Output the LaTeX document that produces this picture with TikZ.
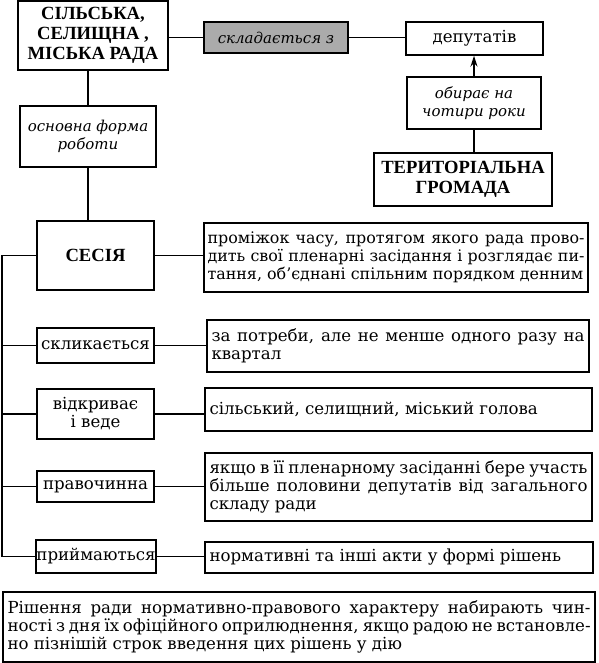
\documentclass[tikz,border=0pt]{standalone}
\usepackage{fontspec}
\setmainfont{DejaVu Serif}
\newfontfamily\headfont{Liberation Serif}
\usetikzlibrary{arrows.meta}
\definecolor{boxgray}{gray}{0.67}

\begin{document}
\begin{tikzpicture}[x=1pt,y=-1pt,line width=1.4pt,
    box/.style={draw,inner sep=0pt,align=center,font=\fontsize{16.6}{18}\selectfont},
    head/.style={box,font=\headfont\bfseries\fontsize{18.6}{20}\selectfont},
    note/.style={box,font=\itshape\fontsize{15}{18}\selectfont},
    info/.style={draw,inner xsep=4.5pt,inner ysep=0pt,align=justify,font=\fontsize{16.6}{18}\selectfont}]
    \useasboundingbox (0,0) rectangle (598,663);
    \node[head,minimum width=150pt,minimum height=69pt] (rada) at (93,35.5) {СІЛЬСЬКА,\\СЕЛИЩНА ,\\МІСЬКА РАДА};
    \node[note,fill=boxgray,minimum width=144pt,minimum height=31pt] (sklad) at (276,37.5) {складається з};
    \node[box,minimum width=137pt,minimum height=33pt] (deput) at (474.5,38.5) {депутатів};
    \node[note,minimum width=134pt,minimum height=52pt] (obyr) at (474,103) {обирає на\\чотири роки};
    \node[head,minimum width=178pt,minimum height=53pt] (hromada) at (463,179.5) {ТЕРИТОРІАЛЬНА\\ГРОМАДА};
    \node[note,minimum width=136pt,minimum height=61pt] (forma) at (88,136.5) {основна форма\\роботи};
    \node[head,minimum width=117pt,minimum height=69pt] (sesia) at (95.5,255.5) {СЕСІЯ};
    \node[box,minimum width=117pt,minimum height=35pt] (sklyk) at (95.5,345.5) {скликається};
    \node[box,minimum width=117pt,minimum height=50pt] (vidkr) at (95.5,414) {відкриває\\і веде};
    \node[box,minimum width=117pt,minimum height=31pt] (prav) at (95.5,486.5) {правочинна};
    \node[box,minimum width=120pt,minimum height=33pt] (pryim) at (96,556.5) {приймаються};
    \node[info,inner xsep=3.5pt,text width=377pt,minimum height=69pt,font=\fontsize{15.9}{18}\selectfont] (d1) at (396,257.5) {проміжок часу, протягом якого рада прово-\linebreak дить свої пленарні засідання і розглядає пи-\linebreak тання, об’єднані спільним порядком денним};
    \node[info,text width=373pt,minimum height=52pt] (d2) at (398,346) {за потреби, але не менше одного разу на\linebreak квартал};
    \node[info,text width=378pt,minimum height=43pt] (d3) at (398.5,409.5) {сільський, селищний, міський голова};
    \node[info,text width=378pt,minimum height=68pt] (d4) at (398.5,487) {якщо в її пленарному засіданні бере участь\linebreak більше половини депутатів від загального\linebreak складу ради};
    \node[info,text width=379pt,minimum height=31pt] (d5) at (399,557.5) {нормативні та інші акти у формі рішень};
    \node[info,text width=583pt,minimum height=70pt] (rishennia) at (299,627) {Рішення ради нормативно-правового характеру набирають чин-\linebreak ності з дня їх офіційного оприлюднення, якщо радою не встановле-\linebreak но пізнішій строк введення цих рішень у дію};
    \coordinate (bus) at (2,0);
    \draw (sklad.west) -- (sklad.west -| rada.east);
    \draw (sklad.east) -- (sklad.east -| deput.west);
    \draw (forma.north) -- (forma.north |- rada.south);
    \draw (forma.south) -- (forma.south |- sesia.north);
    \draw[-{Stealth[length=11pt,width=7pt]}] (obyr.north) -- (obyr.north |- deput.south);
    \draw (obyr.south) -- (obyr.south |- hromada.north);
    \draw (sesia.west) -- (sesia.west -| bus) -- (pryim.west -| bus) -- (pryim.west);
    \foreach \n in {sklyk,vidkr,prav}
        \draw (\n.west) -- (\n.west -| bus);
    \foreach \a/\b in {sesia/d1,sklyk/d2,vidkr/d3,prav/d4,pryim/d5}
        \draw (\a.east) -- (\a.east -| \b.west);
\end{tikzpicture}
\end{document}
